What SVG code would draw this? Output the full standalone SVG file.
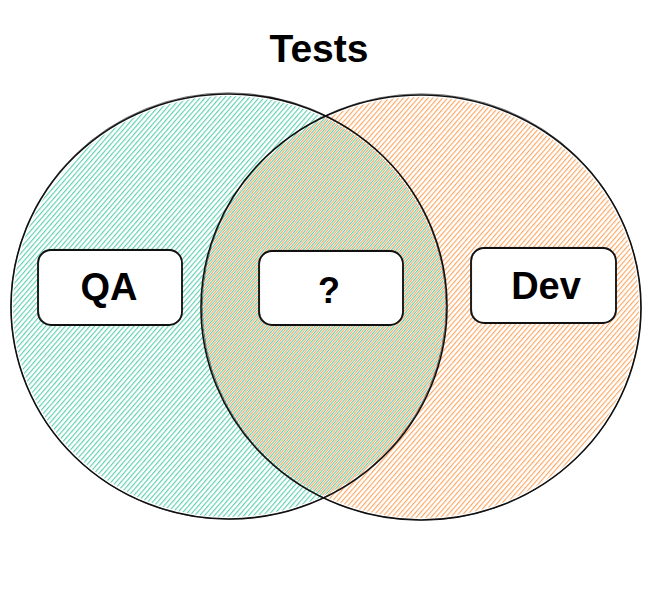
<svg xmlns="http://www.w3.org/2000/svg" width="662" height="607" viewBox="0 0 662 607">
  <style>
    .outline { fill: none; stroke: #111; stroke-width: 1.6; }
    .outline2 { fill: none; stroke: #111; stroke-width: 0.8; opacity: 0.7; }
    .box { fill: #ffffff; stroke: #111; stroke-width: 1.8; }
    .box2 { fill: none; stroke: #111; stroke-width: 0.8; opacity: 0.6; }
    .lbl { font-family: "Liberation Sans", Arial, sans-serif; font-weight: bold; fill: #000; text-anchor: middle; }
  </style>
  <defs>
    <pattern id="hatchTeal" width="3.7" height="10" patternUnits="userSpaceOnUse" patternTransform="rotate(41)">
      <line x1="0.6" y1="0" x2="0.6" y2="10" stroke="#52cca9" stroke-width="1.05"/>
    </pattern>
    <pattern id="hatchOrange" width="3.7" height="10" patternUnits="userSpaceOnUse" patternTransform="rotate(41) translate(1.85 0)">
      <line x1="0.6" y1="0" x2="0.6" y2="10" stroke="#fba057" stroke-width="1.05"/>
    </pattern>
  </defs>

  <g id="title">
    <text class="lbl" x="319" y="62" font-size="39">Tests</text>
  </g>

  <g id="qa-circle">
    <ellipse cx="229" cy="306.5" rx="216" ry="210.5" fill="url(#hatchTeal)"/>
  </g>
  <g id="dev-circle">
    <ellipse cx="421" cy="307.5" rx="218" ry="210.5" fill="url(#hatchOrange)"/>
  </g>
  <g id="outlines">
    <ellipse class="outline" cx="229" cy="306.5" rx="218" ry="212.5"/>
    <ellipse class="outline2" cx="228.4" cy="306" rx="217.6" ry="213.2"/>
    <ellipse class="outline" cx="421" cy="307.5" rx="220" ry="212.5"/>
    <ellipse class="outline2" cx="421.6" cy="307" rx="219.4" ry="213.2"/>
  </g>

  <g id="qa">
    <rect class="box" x="38" y="250" width="144" height="75" rx="13"/>
    <rect class="box2" x="38.6" y="249.4" width="143.4" height="75.6" rx="14"/>
    <text class="lbl" x="109" y="300" font-size="38">QA</text>
  </g>
  <g id="overlap">
    <rect class="box" x="259" y="251" width="144" height="74" rx="13"/>
    <rect class="box2" x="259.6" y="250.4" width="143.2" height="74.8" rx="14"/>
    <text class="lbl" x="329" y="303" font-size="36">?</text>
  </g>
  <g id="dev">
    <rect class="box" x="471" y="248" width="145" height="75" rx="13"/>
    <rect class="box2" x="471.6" y="247.4" width="144.2" height="75.8" rx="14"/>
    <text class="lbl" x="546" y="299" font-size="38">Dev</text>
  </g>
</svg>
